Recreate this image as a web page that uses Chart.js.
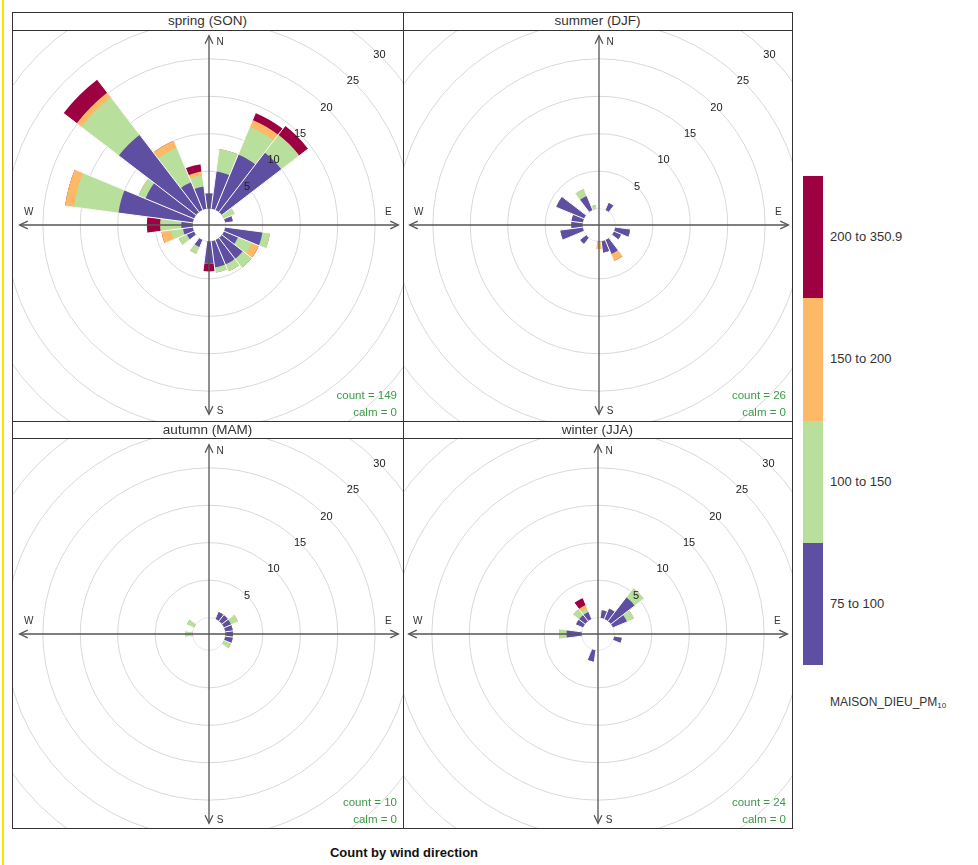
<!DOCTYPE html>
<html>
<head>
<meta charset="utf-8">
<script src="https://cdn.jsdelivr.net/npm/chart.js@4.4.1/dist/chart.umd.min.js"></script>
<style>
  html, body { margin: 0; padding: 0; background: #fff; }
  body { width: 978px; height: 865px; position: relative; overflow: hidden;
         font-family: "Liberation Sans", Arial, sans-serif; color: #222; }
  .abs { position: absolute; }
  .hline { position: absolute; height: 1px; background: #333; }
  .vline { position: absolute; width: 1px; background: #333; }
  .plot { position: absolute; overflow: hidden; }
  .plot canvas { position: absolute; }
  .strip { position: absolute; text-align: center; font-size: 13.5px; color: #333; }
  .stat { position: absolute; font-size: 11.5px; color: #3a9b45; text-align: right; white-space: nowrap; line-height: 14px; }
  .leg { position: absolute; font-size: 13px; color: #333; white-space: nowrap; }
  .title { position: absolute; font-size: 13px; font-weight: bold; color: #111; white-space: nowrap; }
</style>
</head>
<body>
<script>
// ---------------- data ----------------
const directions = [0,15,30,45,60,75,90,105,120,135,150,165,180,195,210,225,240,255,270,285,300,315,330,345];
const bins = ['75 to 100', '100 to 150', '150 to 200', '200 to 350.9'];
const ringTicks = [0, 5, 10, 15, 20, 25, 30];
const ringLabels = [5, 10, 15, 20, 25, 30];
const seasons = ['spring (SON)', 'summer (DJF)', 'autumn (MAM)', 'winter (JJA)'];
const counts = [149, 26, 10, 24];
const calms = [0, 0, 0, 0];

const springPurple = [2,5,8,10,0,1,0,5,2,3.5,3.5,3.5,3,0,1,0,1,1.3,1.5,10,7,13,4,3];
const springGreen  = [0,3,4,3,1.5,0,0,1,2,1.5,1,0.7,0,0,1,0,1.2,1.6,2.8,6,1,6.3,5,1.5];
const springOrange = [0,0,1,0,0,0,0,0,1,0,0,0,0,0,0,0,0,1.3,0,1.2,0,0.8,1,0.5];
const springRed    = [0,0,1,1.5,0,0,0,0,0,0,0,0,1,0,0,0,0,0,1.8,0,0,2.2,0,1];

const summerPurple = [0,0,1,0,0,0,0,2,1,0,2,1.5,0,0,0,1,0,3,1.5,1.5,4,0,2,0];
const summerGreen  = [0,0,0,0,0,0,0,0,0,0,0,0,0,0,0,0,0,0,0,0,0,0,1,0.5];
const summerOrange = [0,0,0,0,0,0,0,0,0,0,1,0,1,0,0,0,0,0,0,0,0,0,0,0];
const summerRed    = [0,0,0,0,0,0,0,0,0,0,0,0,0,0,0,0,0,0,0,0,0,0,0,0];

const autumnPurple = [0,0,1,1,1,1,1,1,0,0,0,0,0,0,0,0,0,0,0,0,0,0,0,0];
const autumnGreen  = [0,0,0,0,1,0,0,0,1,0,0,0,0,0,0,0,0,0,1,0,1,0,0,0];
const autumnOrange = [0,0,0,0,0,0,0,0,0,0,0,0,0,0,0,0,0,0,0,0,0,0,0,0];
const autumnRed    = [0,0,0,0,0,0,0,0,0,0,0,0,0,0,0,0,0,0,0,0,0,0,0,0];

const winterPurple = [0,1,1.5,4,2,0,0,1,0,0,0,0,0,1.5,0,0,0,0,2,0,1,1,1,0];
const winterGreen  = [0,0,0,1.5,1,0,0,0,0,0,0,0,0,0,0,0,0,0,1,0,0,1,0.5,0];
const winterOrange = [0,0,0,0,0,0,0,0,0,0,0,0,0,0,0,0,0,0,0,0,0,0,0.5,0];
const winterRed    = [0,0,0,0,0,0,0,0,0,0,0,0,0,0,0,0,0,0,0,0,0,0,1,0];

// ---------------- styles / layout ----------------
const binColors = ['#5E4FA2', '#B8E09C', '#FDB966', '#9E0142'];
const seasonData = [
  [springPurple, springGreen, springOrange, springRed],
  [summerPurple, summerGreen, summerOrange, summerRed],
  [autumnPurple, autumnGreen, autumnOrange, autumnRed],
  [winterPurple, winterGreen, winterOrange, winterRed]
];
const layout = [
  {x0: 12,  x1: 403, s0: 12,  s1: 30,  p1: 421, cx: 209, cy: 225},
  {x0: 403, x1: 792, s0: 12,  s1: 30,  p1: 421, cx: 599, cy: 225},
  {x0: 12,  x1: 403, s0: 421, s1: 438, p1: 828, cx: 209, cy: 634},
  {x0: 403, x1: 792, s0: 421, s1: 438, p1: 828, cx: 598, cy: 634}
];
const CANVAS = 483;
const AXIS_REACH = 23.1;

function el(tag, cls, css, html) {
  const e = document.createElement(tag);
  if (cls) e.className = cls;
  Object.assign(e.style, css || {});
  if (html !== undefined) e.innerHTML = html;
  document.body.appendChild(e);
  return e;
}

// yellow edge line
el('div', 'abs', {left: '2px', top: '0px', width: '2px', height: '865px', background: '#f2e600'});

const rosePlugin = {
  id: 'rose',
  afterDatasetsUpdate(chart) {
    const s = chart.scales.r;
    const r0 = s.getDistanceFromCenterForValue(0);
    chart.data.datasets.forEach((d, i) => {
      chart.getDatasetMeta(i).data.forEach(a => { a.innerRadius = r0; });
    });
  },
  afterDatasetsDraw(chart) {
    const s = chart.scales.r, ctx = chart.ctx;
    const cx = s.xCenter, cy = s.yCenter;
    const r0 = s.getDistanceFromCenterForValue(0);
    const totals = chart.data.datasets[3].data;
    const arcs = chart.getDatasetMeta(3).data;
    ctx.save();
    // thin white separators between sectors
    ctx.strokeStyle = '#ffffff';
    ctx.lineWidth = 1;
    for (let i = 0; i < arcs.length; i++) {
      const prev = (i + arcs.length - 1) % arcs.length;
      const m = Math.max(totals[i], totals[prev]);
      if (m <= 0) continue;
      const a = arcs[i].startAngle;
      const r1 = s.getDistanceFromCenterForValue(m) + 1;
      ctx.beginPath();
      ctx.moveTo(cx + Math.cos(a) * r0, cy + Math.sin(a) * r0);
      ctx.lineTo(cx + Math.cos(a) * r1, cy + Math.sin(a) * r1);
      ctx.stroke();
    }
    // compass axes with arrows
    const L = s.getDistanceFromCenterForValue(AXIS_REACH);
    ctx.strokeStyle = '#555';
    ctx.lineWidth = 1.3;
    ctx.beginPath();
    ctx.moveTo(cx - L, cy); ctx.lineTo(cx + L, cy);
    ctx.moveTo(cx, cy - L); ctx.lineTo(cx, cy + L);
    ctx.stroke();
    const ah = 9, aw = 0.45;
    const heads = [[cx, cy - L, -Math.PI / 2], [cx, cy + L, Math.PI / 2], [cx - L, cy, Math.PI], [cx + L, cy, 0]];
    heads.forEach(([x, y, ang]) => {
      ctx.beginPath();
      ctx.moveTo(x - ah * Math.cos(ang - aw), y - ah * Math.sin(ang - aw));
      ctx.lineTo(x, y);
      ctx.lineTo(x - ah * Math.cos(ang + aw), y - ah * Math.sin(ang + aw));
      ctx.stroke();
    });
    // compass letters
    ctx.fillStyle = '#333';
    ctx.font = '10px "Liberation Sans", Arial, sans-serif';
    ctx.textAlign = 'center';
    ctx.textBaseline = 'middle';
    ctx.fillText('N', cx + 11, cy - L + 7);
    ctx.fillText('S', cx + 11, cy + L - 3);
    ctx.fillText('W', cx - L + 9, cy - 13);
    ctx.fillText('E', cx + L - 10, cy - 13);
    // ring labels on the 45 degree diagonal
    ctx.font = '11px "Liberation Sans", Arial, sans-serif';
    ctx.fillStyle = '#222';
    ringLabels.forEach(v => {
      const d = s.getDistanceFromCenterForValue(v);
      ctx.fillText(String(v), cx + d * Math.SQRT1_2, cy - d * Math.SQRT1_2);
    });
    ctx.restore();
  }
};

function cumulative(parts) {
  const out = [];
  let acc = parts[0].map(() => 0);
  parts.forEach(p => {
    acc = acc.map((v, i) => v + p[i]);
    out.push(acc.slice());
  });
  return out;
}

seasons.forEach((name, k) => {
  const g = layout[k];
  el('div', 'strip', {left: g.x0 + 'px', top: g.s0 + 'px', width: (g.x1 - g.x0) + 'px', height: (g.s1 - g.s0) + 'px', lineHeight: (g.s1 - g.s0) + 'px'}, name);
  const plot = el('div', 'plot', {left: (g.x0 + 1) + 'px', top: (g.s1 + 1) + 'px', width: (g.x1 - g.x0 - 1) + 'px', height: (g.p1 - g.s1 - 1) + 'px'});
  const cv = document.createElement('canvas');
  cv.width = CANVAS; cv.height = CANVAS;
  cv.style.width = CANVAS + 'px'; cv.style.height = CANVAS + 'px';
  cv.style.left = (g.cx - Math.floor(CANVAS / 2) - (g.x0 + 1)) + 'px';
  cv.style.top = (g.cy - Math.floor(CANVAS / 2) - (g.s1 + 1)) + 'px';
  plot.appendChild(cv);

  const stacks = cumulative(seasonData[k]);
  new Chart(cv, {
    type: 'polarArea',
    data: {
      labels: directions.map(String),
      datasets: stacks.map((data, i) => ({
        label: bins[i], data: data, backgroundColor: binColors[i], borderWidth: 0
      }))
    },
    options: {
      responsive: false,
      animation: false,
      events: [],
      layout: {padding: 0},
      plugins: {legend: {display: false}, tooltip: {enabled: false}},
      scales: {
        r: {
          min: -2.2, max: 30, startAngle: -7.5,
          afterBuildTicks: sc => { sc.ticks = ringTicks.map(v => ({value: v})); },
          ticks: {display: false},
          pointLabels: {display: false},
          angleLines: {display: false},
          grid: {circular: true, lineWidth: 1,
                 color: c => (c.tick && c.tick.value === 0) ? '#e2e7f1' : '#d8d8d8'}
        }
      }
    },
    plugins: [rosePlugin]
  });

  el('div', 'stat', {left: (g.x1 - 106) + 'px', width: '100px', top: (g.p1 - 33) + 'px'}, 'count = ' + counts[k]);
  el('div', 'stat', {left: (g.x1 - 106) + 'px', width: '100px', top: (g.p1 - 16) + 'px'}, 'calm = ' + calms[k]);
});

// frame lines
[12, 30, 421, 438, 828].forEach(y => el('div', 'hline', {left: '12px', top: y + 'px', width: '781px'}));
[12, 403, 792].forEach(x => el('div', 'vline', {left: x + 'px', top: '12px', height: '817px'}));

// colour key
const keyTop = 176, keyH = 489, keyX = 803, keyW = 20;
for (let i = 0; i < 4; i++) {
  const seg = keyH / 4;
  const top = keyTop + (3 - i) * seg;
  el('div', 'abs', {left: keyX + 'px', top: top + 'px', width: keyW + 'px', height: seg + 'px', background: binColors[i]});
  el('div', 'leg', {left: '830px', top: (top + seg / 2 - 8) + 'px'}, bins[i]);
}
el('div', 'leg', {left: '830px', top: '695px', fontSize: '12px'}, 'MAISON_DIEU_PM<sub style="font-size:8px;vertical-align:-2px">10</sub>');

el('div', 'title', {left: '0px', width: '808px', textAlign: 'center', top: '845px'}, 'Count by wind direction');
</script>
</body>
</html>
